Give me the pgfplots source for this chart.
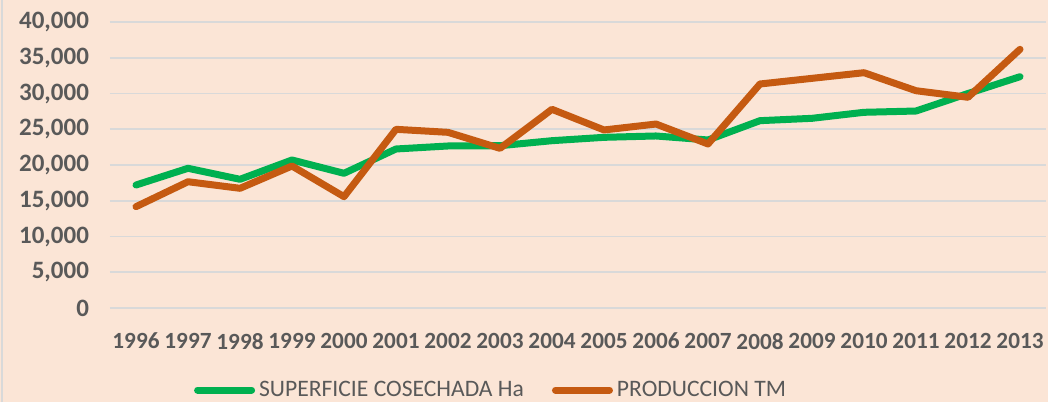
\documentclass[border=0pt]{standalone}
\usepackage{pgfplots}
\pgfplotsset{compat=1.18}
\usepackage{fontspec}
\setmainfont{Carlito}
\definecolor{bgpeach}{HTML}{FBE5D6}
\definecolor{txtgray}{HTML}{595959}
\definecolor{gridgray}{HTML}{D9D9D9}
\definecolor{supgreen}{HTML}{00B050}
\definecolor{prodorange}{HTML}{C55A11}

\pgfplotstableread{
idx year sup prod
0  1996 17200 14170
1  1997 19540 17660
2  1998 18000 16740
3  1999 20700 19860
4  2000 18840 15570
5  2001 22240 24990
6  2002 22660 24570
7  2003 22700 22330
8  2004 23400 27790
9  2005 23870 24900
10 2006 24060 25730
11 2007 23500 22940
12 2008 26200 31330
13 2009 26530 32120
14 2010 27370 32910
15 2011 27550 30390
16 2012 30000 29470
17 2013 32350 36180
}\datatable

\begin{document}
\begin{tikzpicture}
% chart area background
\fill[bgpeach] (-55pt,-47pt) rectangle (469pt,154pt);
\draw[gridgray, line width=1pt] (-54pt,-47pt) -- (-54pt,154pt);
\begin{axis}[
  scale only axis,
  width=468pt, height=143pt,
  xmin=-0.5, xmax=17.5,
  ymin=0, ymax=40000,
  ytick={0,5000,...,40000},
  xtick={0,...,17},
  xticklabels={1996,1997,1998,1999,2000,2001,2002,2003,2004,2005,2006,2007,2008,2009,2010,2011,2012,2013},
  axis line style={draw=none},
  major tick length=0pt,
  ymajorgrids,
  grid style={gridgray, line width=0.8pt},
  /pgf/number format/assume math mode=true,
  /pgf/number format/1000 sep={,},
  scaled y ticks=false,
  tick label style={text=txtgray},
  xticklabel style={font=\fontsize{11.6}{13}\selectfont\bfseries, yshift=-9pt},
  yticklabel style={font=\fontsize{12.5}{14}\selectfont\bfseries, anchor=east, xshift=-7pt},
  legend style={at={(0.083,-0.287)}, anchor=west, draw=none, fill=none,
    font=\fontsize{11.8}{13}\selectfont, text=txtgray,
    /tikz/every even column/.append style={column sep=12pt}},
  legend columns=2,
  legend image code/.code={\draw[#1, line cap=round] (0pt,0pt) -- (27pt,0pt);},
]
\addplot[supgreen, line width=3.5pt, line join=round, line cap=round] table[x=idx, y=sup] {\datatable};
\addplot[prodorange, line width=3.5pt, line join=round, line cap=round] table[x=idx, y=prod] {\datatable};
\legend{SUPERFICIE COSECHADA Ha, PRODUCCION TM}
\end{axis}
\pgfresetboundingbox
\useasboundingbox (-55pt,-47pt) rectangle (469pt,154pt);
\end{tikzpicture}
\end{document}
